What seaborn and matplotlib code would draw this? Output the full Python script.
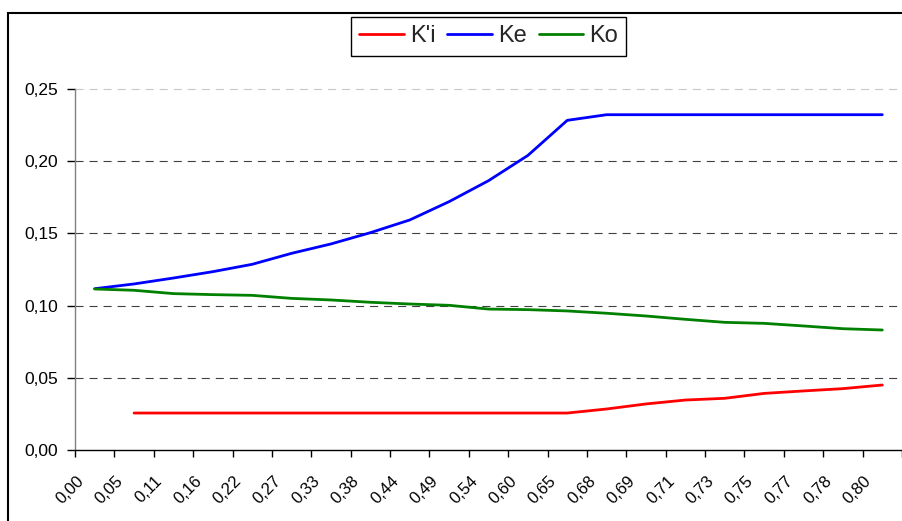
import numpy as np
import pandas as pd
import matplotlib
matplotlib.use("Agg")
import matplotlib.pyplot as plt
import matplotlib.transforms as mtransforms
from matplotlib.patches import Rectangle
import seaborn as sns

# Category labels along the x axis
categories = ["0,00", "0,05", "0,11", "0,16", "0,22", "0,27", "0,33", "0,38",
              "0,44", "0,49", "0,54", "0,60", "0,65", "0,68", "0,69", "0,71",
              "0,73", "0,75", "0,77", "0,78", "0,80"]

# Series values (K'i has no value at the first category)
k_i = [np.nan, 0.0256, 0.0256, 0.0256, 0.0256, 0.0256, 0.0256, 0.0256,
       0.0256, 0.0256, 0.0256, 0.0256, 0.0256, 0.0284, 0.0319, 0.0346,
       0.0358, 0.0392, 0.0409, 0.0425, 0.0450]
k_e = [0.1117, 0.1150, 0.1191, 0.1235, 0.1286, 0.1362, 0.1427, 0.1505,
       0.1593, 0.1720, 0.1865, 0.2040, 0.2283, 0.2322, 0.2322, 0.2322,
       0.2322, 0.2322, 0.2322, 0.2322, 0.2322]
k_o = [0.1115, 0.1106, 0.1083, 0.1076, 0.1071, 0.1050, 0.1039, 0.1023,
       0.1011, 0.1002, 0.0976, 0.0972, 0.0963, 0.0947, 0.0928, 0.0905,
       0.0884, 0.0877, 0.0859, 0.0840, 0.0831]

series_names = ["K'i", "Ke", "Ko"]
series_colors = {"K'i": "#FF0000", "Ke": "#0000FF", "Ko": "#008000"}

y_ticks = [0.00, 0.05, 0.10, 0.15, 0.20, 0.25]
y_tick_labels = ["0,00", "0,05", "0,10", "0,15", "0,20", "0,25"]

pos = np.arange(len(categories))
df = pd.concat([
    pd.DataFrame({"pos": pos, "value": vals, "series": name})
    for name, vals in zip(series_names, [k_i, k_e, k_o])
], ignore_index=True).dropna()

sns.set_theme(style="white")
plt.rcParams["font.family"] = ["Liberation Sans", "DejaVu Sans"]
plt.rcParams["lines.scale_dashes"] = False

W, H = 903, 521
fig = plt.figure(figsize=(W / 100, H / 100), dpi=100)
fig.patch.set_facecolor("white")

# Outer chart border
fig.add_artist(Rectangle((8 / W, 0 - 0.05), 1.1, 1 - 13 / H + 0.05,
                         transform=fig.transFigure, fill=False,
                         edgecolor="black", linewidth=1.5, clip_on=False))

left, right, top, bottom = 75, 902, 89, 450
ax = fig.add_axes([left / W, 1 - bottom / H, (right - left) / W, (bottom - top) / H])
ax.set_facecolor("white")

# Horizontal dashed gridlines
for yv in y_ticks[1:-1]:
    ax.axhline(yv, color="#404040", linewidth=0.8,
               linestyle=(0, (5.8, 4.3)), zorder=1)
ax.axhline(y_ticks[-1], color="#c8c8c8", linewidth=0.8,
           linestyle=(0, (5.8, 4.3)), zorder=1, clip_on=False)

sns.lineplot(data=df, x="pos", y="value", hue="series", hue_order=series_names,
             palette=series_colors, linewidth=2.0, estimator=None, sort=False,
             ax=ax, zorder=3)

ax.set_xlim(-0.5, len(categories) - 0.5)
ax.set_ylim(0, 0.25)
ax.set_xlabel("")
ax.set_ylabel("")

# y axis
ax.set_yticks(y_ticks)
ax.set_yticklabels(y_tick_labels)
ax.tick_params(axis="y", which="major", left=True, length=6, width=1,
               color="black", pad=6, labelsize=12.5, labelcolor="black")

# x axis: tick marks between categories, labels at category centres
ax.set_xticks(np.arange(len(categories) + 1) - 0.5)
ax.set_xticklabels([])
ax.set_xticks(pos, minor=True)
ax.set_xticklabels(categories, minor=True, rotation=45, ha="right", va="top")
ax.tick_params(axis="x", which="major", bottom=True, length=5, width=1,
               color="black")
ax.tick_params(axis="x", which="minor", bottom=True, length=0, pad=17,
               labelsize=12, labelcolor="black")
shift = mtransforms.ScaledTranslation(-8 / 100, 0, fig.dpi_scale_trans)
for lbl in ax.get_xticklabels(minor=True):
    lbl.set_transform(lbl.get_transform() + shift)

for side in ["top", "right"]:
    ax.spines[side].set_visible(False)
ax.spines["left"].set_color("#808080")
ax.spines["left"].set_linewidth(1.0)
ax.spines["bottom"].set_color("black")
ax.spines["bottom"].set_linewidth(1.0)
ax.spines["bottom"].set_zorder(4)

handles, labels = ax.get_legend_handles_labels()
ax.get_legend().remove()
leg = fig.legend(handles, labels, loc="upper center",
                 bbox_to_anchor=(488.5 / W, 1 - 17 / H), ncol=3,
                 frameon=True, fancybox=False, edgecolor="black",
                 framealpha=1, fontsize=17, handlelength=1.9,
                 handletextpad=0.25, columnspacing=0.5, borderpad=0.35,
                 borderaxespad=0)
leg.get_frame().set_linewidth(1.0)

fig.savefig("out.png", dpi=100, facecolor="white")
